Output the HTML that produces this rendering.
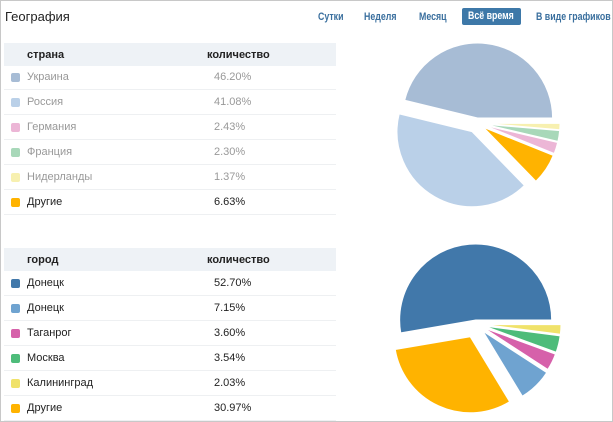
<!DOCTYPE html>
<html><head><meta charset="utf-8"><style>
body{margin:0;width:613px;height:422px;overflow:hidden;background:#fff;font-family:"Liberation Sans",Arial,sans-serif;}
.frame{position:absolute;left:0;top:0;width:611px;height:420px;border:1px solid #c8c8c8;}
.t{position:absolute;white-space:nowrap;}
.title{left:5px;top:9px;font-size:13px;color:#222;}
.tab{top:11px;font-size:11px;font-weight:bold;color:#3a6f9e;transform:scaleX(0.8);transform-origin:left top;}
.btn{position:absolute;left:462px;top:8px;width:59px;height:17px;background:#3d78a8;border-radius:2px;}
.btn span{position:absolute;left:6px;top:2px;color:#fff;font-size:11px;font-weight:bold;white-space:nowrap;transform:scaleX(0.8);transform-origin:left top;}
.hdr{position:absolute;left:4px;width:332px;height:23px;background:#eef2f6;}
.row{position:absolute;left:4px;width:332px;height:24px;border-bottom:1px solid #eef0f2;font-size:11px;}
.sw{position:absolute;left:7px;top:8px;width:9px;height:9px;border-radius:2px;}
.nm{position:absolute;left:23px;top:6px;}
.pc{position:absolute;left:210px;top:6px;}
.hb{position:absolute;font-size:11px;font-weight:bold;color:#222;top:6px;}
</style></head><body>
<div class="frame"></div>
<div class="t title">География</div>
<div class="t tab" style="left:318px">Сутки</div>
<div class="t tab" style="left:364px">Неделя</div>
<div class="t tab" style="left:419px">Месяц</div>
<div class="btn"><span>Всё время</span></div>
<div class="t tab" style="left:536px">В виде графиков</div>

<div class="hdr" style="top:43px"><span class="hb" style="left:23px">страна</span><span class="hb" style="left:203px">количество</span></div>
<div class="row" style="top:65px;color:#999"><div class="sw" style="background:#a7bcd5"></div><span class="nm">Украина</span><span class="pc">46.20%</span></div>
<div class="row" style="top:90px;color:#999"><div class="sw" style="background:#bad0e8"></div><span class="nm">Россия</span><span class="pc">41.08%</span></div>
<div class="row" style="top:115px;color:#999"><div class="sw" style="background:#ecb6d6"></div><span class="nm">Германия</span><span class="pc">2.43%</span></div>
<div class="row" style="top:140px;color:#999"><div class="sw" style="background:#a8d8b9"></div><span class="nm">Франция</span><span class="pc">2.30%</span></div>
<div class="row" style="top:165px;color:#999"><div class="sw" style="background:#f7f0b0"></div><span class="nm">Нидерланды</span><span class="pc">1.37%</span></div>
<div class="row" style="top:190px;color:#222"><div class="sw" style="background:#ffb300"></div><span class="nm">Другие</span><span class="pc">6.63%</span></div>

<div class="hdr" style="top:248px"><span class="hb" style="left:23px">город</span><span class="hb" style="left:203px">количество</span></div>
<div class="row" style="top:271px;color:#222"><div class="sw" style="background:#4178aa"></div><span class="nm">Донецк</span><span class="pc">52.70%</span></div>
<div class="row" style="top:296px;color:#222"><div class="sw" style="background:#6fa3d0"></div><span class="nm">Донецк</span><span class="pc">7.15%</span></div>
<div class="row" style="top:321px;color:#222"><div class="sw" style="background:#d661aa"></div><span class="nm">Таганрог</span><span class="pc">3.60%</span></div>
<div class="row" style="top:346px;color:#222"><div class="sw" style="background:#4ebc7a"></div><span class="nm">Москва</span><span class="pc">3.54%</span></div>
<div class="row" style="top:371px;color:#222"><div class="sw" style="background:#f0e26a"></div><span class="nm">Калининград</span><span class="pc">2.03%</span></div>
<div class="row" style="top:396px;color:#222"><div class="sw" style="background:#ffb300"></div><span class="nm">Другие</span><span class="pc">30.97%</span></div>

<svg id="s" width="613" height="422" style="position:absolute;left:0;top:0"></svg>
<script>
var s=document.getElementById('s');
function pie(cx,cy,r,data){
 var a=0;
 data.forEach(function(d){
  var a0=a,a1=a+d[0]*3.6;a=a1;
  var m=(a0+a1)/2*Math.PI/180,ox=cx+d[2]*Math.cos(m),oy=cy-d[2]*Math.sin(m);
  var r0=a0*Math.PI/180,r1=a1*Math.PI/180;
  var x0=ox+r*Math.cos(r0),y0=oy-r*Math.sin(r0),x1=ox+r*Math.cos(r1),y1=oy-r*Math.sin(r1);
  var lg=(a1-a0)>180?1:0;
  var p=document.createElementNS('http://www.w3.org/2000/svg','path');
  p.setAttribute('d','M'+ox+','+oy+'L'+x0+','+y0+'A'+r+','+r+' 0 '+lg+' 0 '+x1+','+y1+'Z');
  p.setAttribute('fill',d[1]);p.setAttribute('stroke','#fff');p.setAttribute('stroke-width','1');
  s.appendChild(p);
 });
}
pie(477,123,75,[[46.20,'#a7bcd5',5],[41.08,'#bad0e8',10],[6.63,'#ffb300',8],[2.43,'#ecb6d6',8],[2.30,'#a8d8b9',8],[1.37,'#f7f0b0',8]]);
pie(476,324,76,[[52.70,'#4178aa',4],[30.97,'#ffb300',14],[7.15,'#6fa3d0',10],[3.60,'#d661aa',9],[3.54,'#4ebc7a',9],[2.03,'#f0e26a',9]]);
</script>
</body></html>
